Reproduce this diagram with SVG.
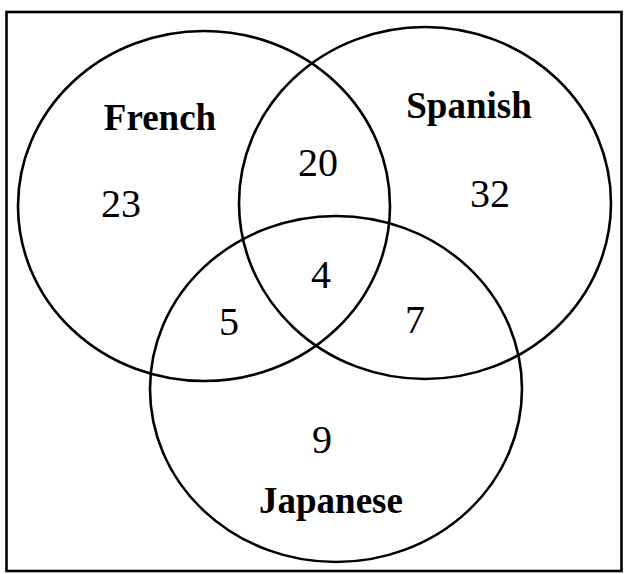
<svg xmlns="http://www.w3.org/2000/svg" width="624" height="574" viewBox="0 0 624 574">
<style>
.set{fill:none;stroke:#000;stroke-width:2.6}
.lbl{font-family:"Liberation Serif","Times New Roman",serif;font-weight:bold;font-size:37px;fill:#000;text-anchor:middle}
.num{font-family:"Liberation Serif","Times New Roman",serif;font-size:40px;fill:#000;text-anchor:middle}
</style>
<rect x="0" y="0" width="624" height="574" fill="#fff"/>
<rect id="frame" x="6.5" y="12" width="615" height="559" fill="none" stroke="#000" stroke-width="2.6"/>
<g id="french">
<ellipse class="set" cx="204" cy="206" rx="186" ry="175"/>
<text class="lbl" x="160" y="130">French</text>
</g>
<g id="spanish">
<ellipse class="set" cx="425" cy="203" rx="186" ry="176"/>
<text class="lbl" x="469" y="118">Spanish</text>
</g>
<g id="japanese">
<ellipse class="set" cx="336" cy="389" rx="186" ry="173"/>
<text class="lbl" x="331" y="513">Japanese</text>
</g>
<g id="counts">
<text class="num" x="121" y="217">23</text>
<text class="num" x="490" y="207">32</text>
<text class="num" x="318" y="176">20</text>
<text class="num" x="321" y="288">4</text>
<text class="num" x="229" y="335">5</text>
<text class="num" x="415" y="333">7</text>
<text class="num" x="322" y="453">9</text>
</g>
</svg>
